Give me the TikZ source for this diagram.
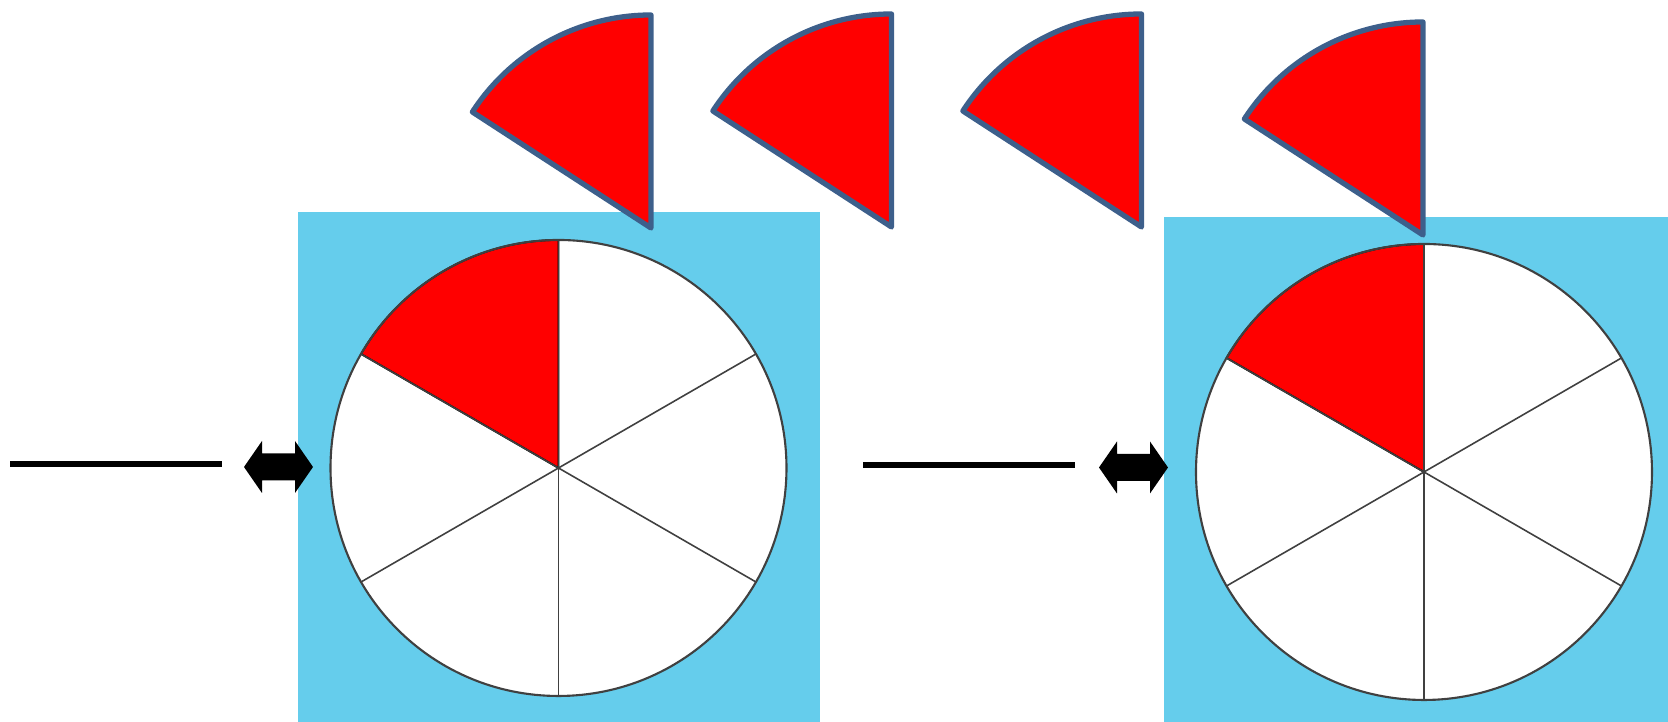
\documentclass[tikz,border=0pt]{standalone}
\usetikzlibrary{positioning}
\definecolor{skyblue}{HTML}{65CDEC}
\definecolor{slateedge}{HTML}{3D5F8B}
\definecolor{spokegray}{HTML}{404040}
\tikzset{
  backsquare/.style={fill=skyblue, draw=none},
  wheelrim/.style={draw=spokegray, line width=0.6pt},
  spoke/.style={draw=spokegray, line width=0.45pt},
  slice/.style={fill=red, draw=slateedge, line width=1.5pt, line join=round},
  dash line/.style={line width=1.7pt},
  twoway/.style={fill=black, draw=none}
}
\begin{document}
\begin{tikzpicture}[x=0.01cm, y=0.01cm]
        \useasboundingbox (0,0) rectangle (1668,722);

        % Blue backgrounds
        \fill[backsquare] (298,0) rectangle (820,510);
        \fill[backsquare] (1164,0) rectangle (1668,505);

        % Wheels: six slices, the top-left one red
        \foreach \cx/\cy/\nm in {558.5/254/lwheel, 1424/250/rwheel} {
          \coordinate (\nm) at (\cx,\cy);
          \fill[white] (\nm) circle (228);
          \filldraw[red, draw=black, line width=0.5pt] (\nm) -- ++(90:228) arc (90:150:228) -- cycle;
          \foreach \a in {30,90,...,330}
            \draw[spoke] (\nm) -- ++(\a:228);
          \draw[wheelrim] (\nm) circle (228);
        }

        % Loose slices on top
        \foreach \tx/\ty/\nm in {651/494/s1, 891.5/495/s2, 1141.5/495/s3, 1423/487/s4} {
          \coordinate (\nm) at (\tx,\ty);
          \draw[slice] (\nm) -- ++(90:213) arc (90:147:213) -- cycle;
        }

        % Blank lines
        \coordinate (l1a) at (10,258);
        \coordinate (l1b) at (222,258);
        \coordinate (l2a) at (863,257);
        \coordinate (l2b) at (1075,257);
        \draw[dash line] (l1a) -- (l1b);
        \draw[dash line] (l2a) -- (l2b);

        % Double-headed block arrows
        \foreach \x/\y in {244/255, 1099/254.5} {
          \fill[twoway] (\x,\y) -- ++(18,26) -- ++(0,-12.5) -- ++(33,0) -- ++(0,12.5)
            -- ++(18,-26) -- ++(-18,-26) -- ++(0,12.5) -- ++(-33,0) -- ++(0,-12.5) -- cycle;
        }
\end{tikzpicture}
\end{document}
